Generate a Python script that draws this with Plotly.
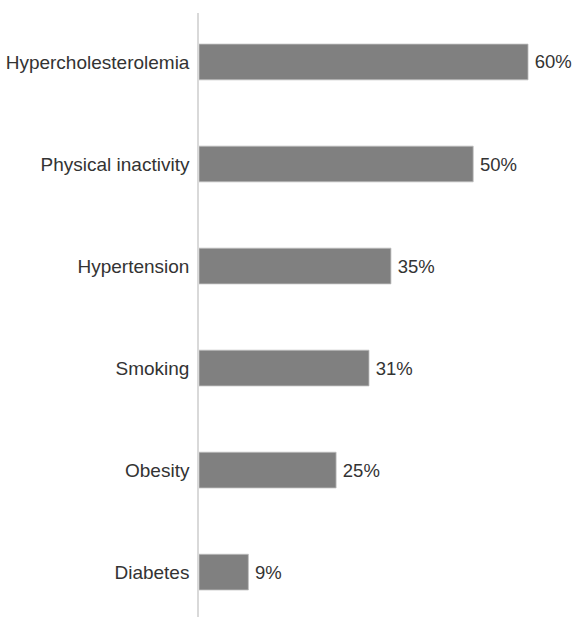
import plotly.graph_objects as go

categories = ["Diabetes", "Obesity", "Smoking", "Hypertension", "Physical inactivity", "Hypercholesterolemia"]
values = [9, 25, 31, 35, 50, 60]

FONT = "Liberation Sans, Arial, Helvetica, sans-serif"

fig = go.Figure(go.Bar(
    x=values, y=categories, orientation="h",
    marker=dict(color="#808080", line=dict(color="#bdbdbd", width=0.8)),
    width=0.35,
    text=[f"{v}%" for v in values],
    texttemplate="\u2009%{text}",
    textposition="outside",
    textfont=dict(family=FONT, size=18.5, color="#333333"),
    cliponaxis=False,
))

fig.update_layout(
    width=576, height=617,
    margin=dict(l=199, r=0, t=13, b=0),
    plot_bgcolor="white", paper_bgcolor="white",
    showlegend=False,
    font=dict(family=FONT, size=18, color="#333333"),
    xaxis=dict(range=[0, 68.75], visible=False, showgrid=False, zeroline=False),
    yaxis=dict(range=[-0.44, 5.48], showline=True, linecolor="#d9d9d9", linewidth=1.5,
               showgrid=False, zeroline=False, ticks="", ticklabelstandoff=4,
               categoryorder="array", categoryarray=categories,
               tickfont=dict(family=FONT, size=19, color="#333333")),
)

fig.write_html("out.html")
